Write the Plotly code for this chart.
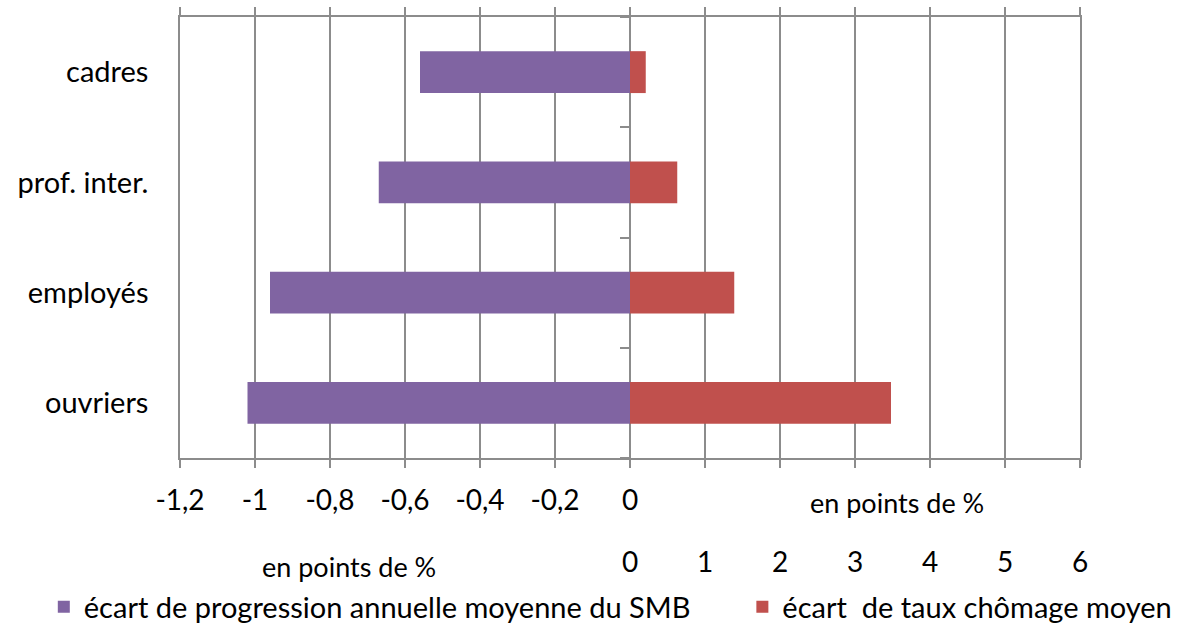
import plotly.graph_objects as go

categories = ["ouvriers", "employés", "prof. inter.", "cadres"]
smb_gap = [-1.02, -0.96, -0.67, -0.56]
chomage_gap = [3.48, 1.39, 0.63, 0.21]

left_ticks = [-1.2, -1.0, -0.8, -0.6, -0.4, -0.2, 0]
left_ticktext = ["-1,2", "-1", "-0,8", "-0,6", "-0,4", "-0,2", "0"]
right_ticks = [0, 1, 2, 3, 4, 5, 6]
boundary_ticks = [-0.5, 0.5, 1.5, 2.5, 3.5]

name_smb = "écart de progression annuelle moyenne du SMB"
name_cho = "écart  de taux chômage moyen"

grid = "#8c8c8c"
font = "Lato"

fig = go.Figure()
fig.add_trace(go.Bar(
    y=categories, x=smb_gap, orientation="h", name=name_smb,
    marker=dict(color="#8064A2", line=dict(width=0)), width=0.38,
    xaxis="x", yaxis="y", legend="legend",
))
fig.add_trace(go.Bar(
    y=categories, x=chomage_gap, orientation="h", name=name_cho,
    marker=dict(color="#C0504D", line=dict(width=0)), width=0.38,
    xaxis="x2", yaxis="y", legend="legend2",
))
# helper (empty) trace so the boundary-tick axis gets drawn
fig.add_trace(go.Scatter(x=[None], y=[None], xaxis="x2", yaxis="y2",
                         showlegend=False, hoverinfo="skip", mode="markers"))

legend_common = dict(orientation="h", xref="container", yref="container",
                     y=0.029, xanchor="left", yanchor="middle",
                     font=dict(size=29, family=font), itemwidth=30,
                     bgcolor="rgba(0,0,0,0)")

fig.update_layout(
    width=1184, height=625,
    margin=dict(l=180, r=104, t=17, b=167, autoexpand=False),
    paper_bgcolor="white", plot_bgcolor="white",
    barmode="overlay",
    font=dict(family=font, size=28, color="black"),
    showlegend=True,
    legend=dict(x=0.037, **legend_common),
    legend2=dict(x=0.627, **legend_common),
    xaxis=dict(
        range=[-1.2, 1.2], tickvals=left_ticks, ticktext=left_ticktext,
        showgrid=True, gridcolor=grid, gridwidth=1.5,
        zeroline=True, zerolinecolor=grid, zerolinewidth=1.5,
        showline=True, linecolor=grid, linewidth=1.5, mirror="ticks",
        ticks="outside", ticklen=8, tickcolor=grid, tickwidth=1.5,
        ticklabelstandoff=9, tickfont=dict(size=28),
    ),
    xaxis2=dict(
        range=[-6, 6], tickvals=right_ticks, overlaying="x", side="bottom", anchor="y",
        showgrid=True, gridcolor=grid, gridwidth=1.5, zeroline=False,
        showline=True, linecolor=grid, linewidth=1.5, mirror="ticks",
        ticks="outside", ticklen=8, tickcolor=grid, tickwidth=1.5,
        ticklabelstandoff=71, tickfont=dict(size=28),
    ),
    yaxis=dict(
        type="category", categoryorder="array", categoryarray=categories,
        range=[-0.5, 3.5], showgrid=False, zeroline=False,
        showline=True, linecolor=grid, linewidth=1.5, mirror=True,
        ticks="", ticklabelstandoff=24, tickfont=dict(size=29),
    ),
    yaxis2=dict(
        range=[-0.5, 3.5], overlaying="y", anchor="free", position=0.5, side="left",
        tickvals=boundary_ticks, showticklabels=False,
        ticks="outside", ticklen=10, tickcolor=grid, tickwidth=1.5,
        showgrid=False, zeroline=False, showline=False,
    ),
    annotations=[
        dict(text="en points de %", xref="paper", yref="paper", x=0.797, y=-0.102,
             xanchor="center", yanchor="middle",
             showarrow=False, font=dict(size=27, family=font)),
        dict(text="en points de %", xref="paper", yref="paper", x=0.188, y=-0.245,
             xanchor="center", yanchor="middle",
             showarrow=False, font=dict(size=27, family=font)),
    ],
)

fig.write_html("out.html", config={"displayModeBar": False},
               post_script="document.body.style.margin='0';")
